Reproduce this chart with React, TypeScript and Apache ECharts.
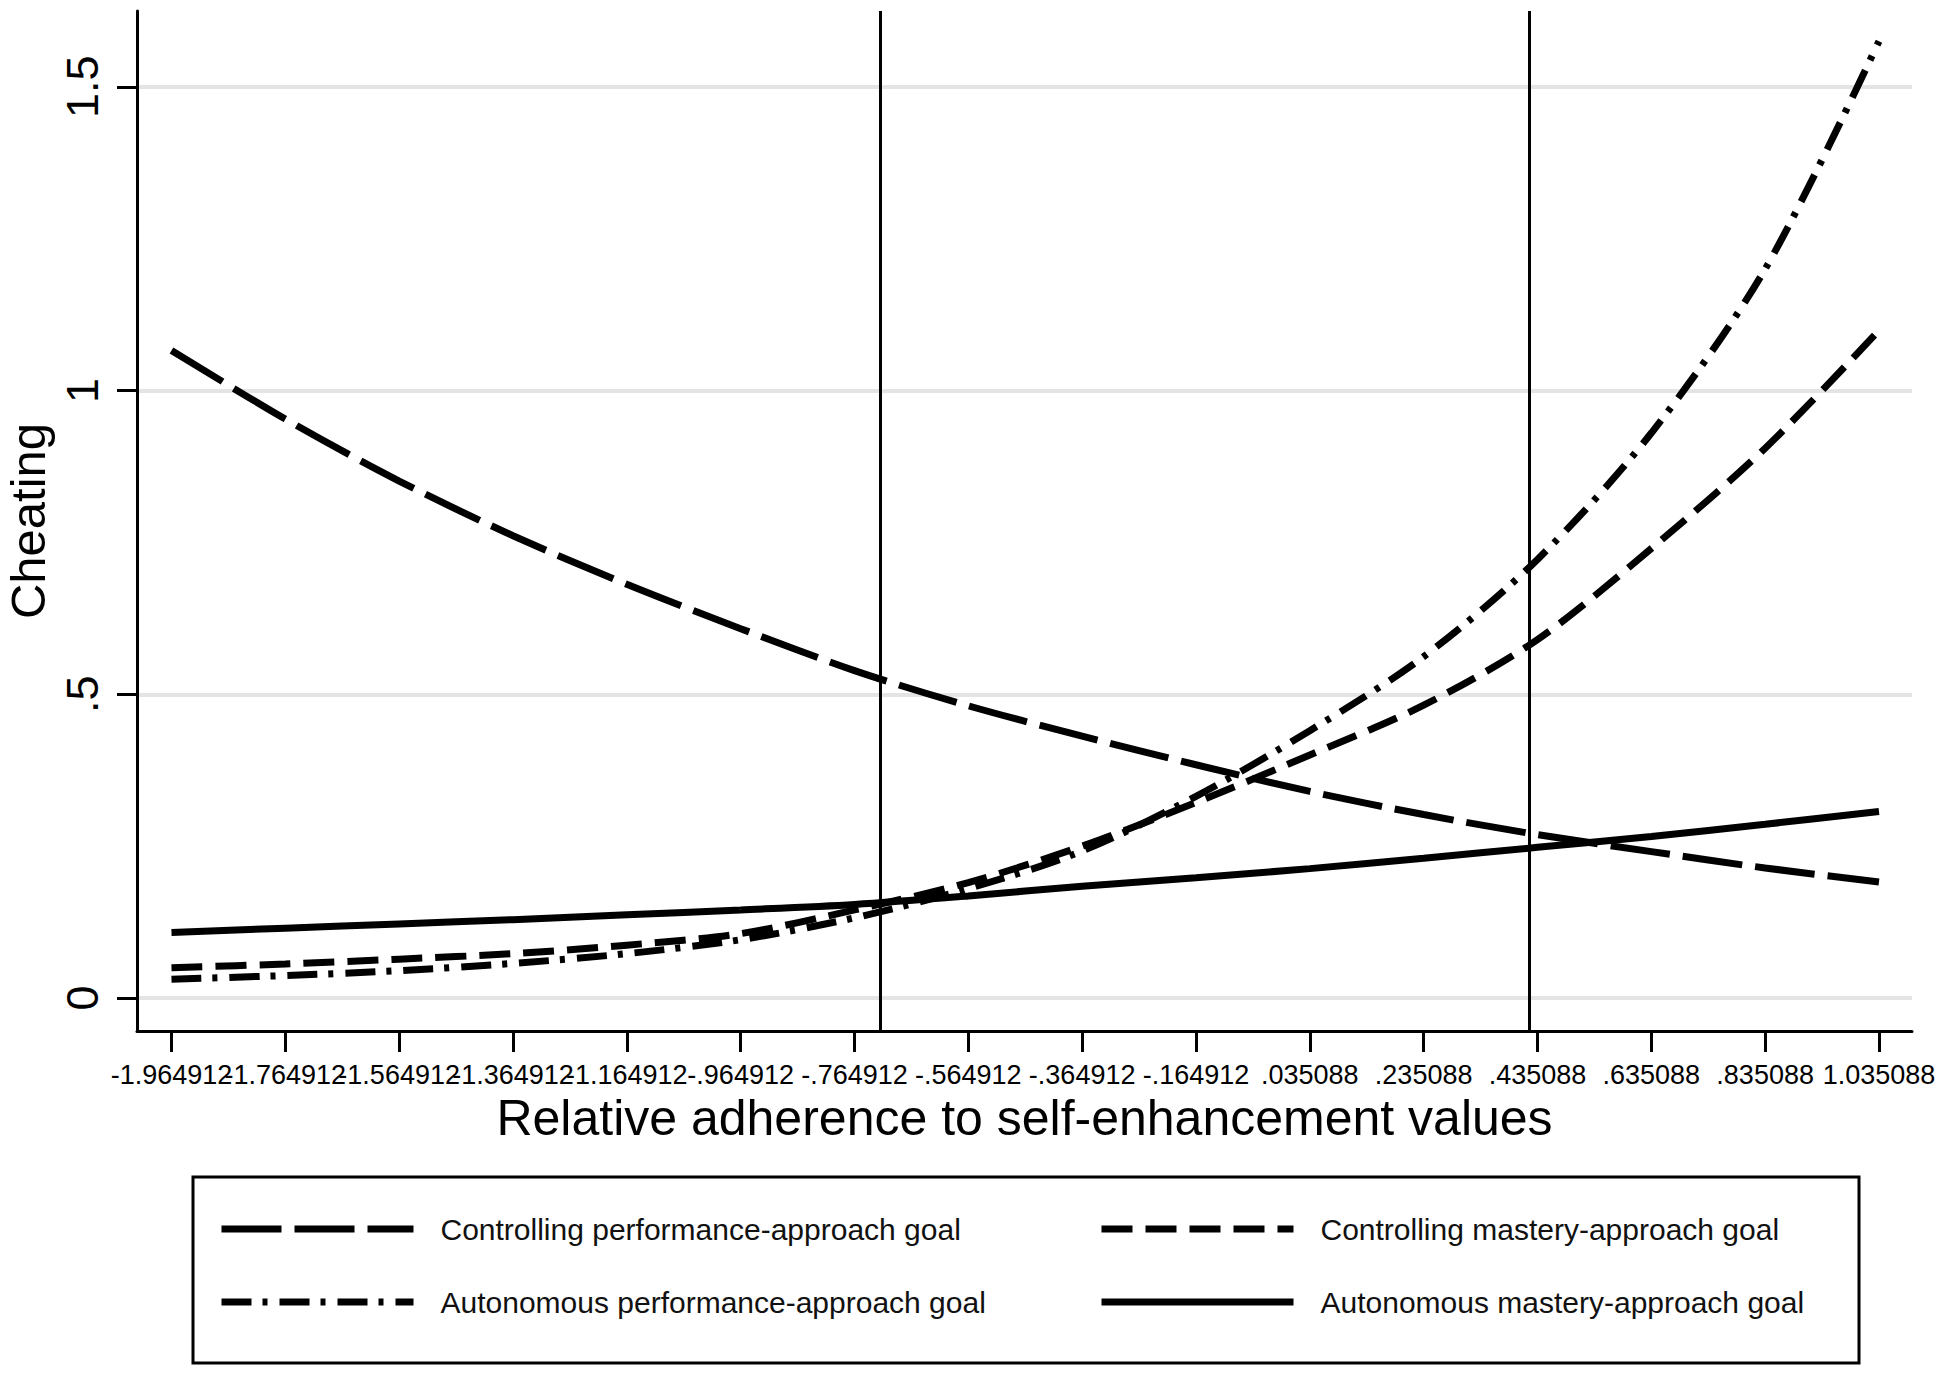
import React, { useEffect, useRef } from "react";
import * as echarts from "echarts";

const xTicks = [
  -1.964912, -1.764912, -1.564912, -1.364912, -1.164912, -0.964912, -0.764912, -0.564912,
  -0.364912, -0.164912, 0.035088, 0.235088, 0.435088, 0.635088, 0.835088, 1.035088,
];
const xTickLabels = [
  "-1.964912", "-1.764912", "-1.564912", "-1.364912", "-1.164912", "-.964912", "-.764912", "-.564912",
  "-.364912", "-.164912", ".035088", ".235088", ".435088", ".635088", ".835088", "1.035088",
];
const yTicks = [0, 0.5, 1, 1.5];
const yTickLabels = ["0", ".5", "1", "1.5"];

const ctrlPerf = [1.066, 0.953, 0.851, 0.761, 0.681, 0.608, 0.539, 0.481, 0.431, 0.384, 0.34, 0.302, 0.269, 0.241, 0.214, 0.191];
const ctrlMastery = [0.05, 0.056, 0.064, 0.073, 0.087, 0.106, 0.145, 0.19, 0.25, 0.322, 0.4, 0.482, 0.59, 0.74, 0.905, 1.099];
const autoPerf = [0.031, 0.037, 0.045, 0.057, 0.073, 0.096, 0.132, 0.18, 0.242, 0.332, 0.44, 0.562, 0.722, 0.93, 1.2, 1.575];
const autoMastery = [0.108, 0.115, 0.122, 0.129, 0.137, 0.145, 0.154, 0.168, 0.184, 0.198, 0.213, 0.23, 0.248, 0.266, 0.286, 0.307];

const refLines = [-0.72, 0.422];

const seriesNames = [
  "Controlling performance-approach goal",
  "Controlling mastery-approach goal",
  "Autonomous performance-approach goal",
  "Autonomous mastery-approach goal",
];

const FONT = "'Liberation Sans', Arial, Helvetica, sans-serif";
const X_MIN = -2.0255;
const X_MAX = 1.0931;

function pairs(vals: number[]) {
  return vals.map((v, i) => [xTicks[i], v]);
}

function xLabelFormatter(v: number) {
  const i = xTicks.findIndex((t) => Math.abs(t - v) < 1e-6);
  return i >= 0 ? xTickLabels[i] : "";
}

function buildXAxis(ticks: number[], main: boolean) {
  return {
    type: "value",
    gridIndex: 0,
    position: "bottom",
    offset: 0,
    min: X_MIN,
    max: X_MAX,
    name: main ? "Relative adherence to self-enhancement values" : "",
    nameLocation: "middle",
    nameGap: 62,
    nameTextStyle: { fontSize: 50, color: "#000", fontFamily: FONT },
    axisLine: { show: main, onZero: false, lineStyle: { color: "#000", width: 3 } },
    axisTick: { show: true, length: 21, customValues: ticks, lineStyle: { color: "#000", width: 3 } },
    axisLabel: {
      customValues: ticks,
      showMinLabel: true,
      showMaxLabel: true,
      fontSize: 27,
      color: "#000",
      fontFamily: FONT,
      margin: 30,
      hideOverlap: false,
      formatter: xLabelFormatter,
    },
    splitLine: { show: false },
  };
}

function buildOption() {
  const evenTicks = xTicks.filter((_, i) => i % 2 === 0);
  const oddTicks = xTicks.filter((_, i) => i % 2 === 1);
  const lineSeries = (name: string, vals: number[], dash: any) => ({
    name,
    type: "line",
    xAxisIndex: 0,
    data: pairs(vals),
    symbol: "none",
    showSymbol: false,
    smooth: 0.3,
    lineStyle: { color: "#000", width: 7, type: dash, cap: "butt" },
    itemStyle: { color: "#000" },
    z: 3,
  });
  const s0: any = lineSeries(seriesNames[0], ctrlPerf, [60, 13]);
  s0.markLine = {
    silent: true,
    symbol: ["none", "none"],
    label: { show: false },
    lineStyle: { color: "#000", width: 3, type: "solid" },
    data: refLines.map((v) => ({ xAxis: v })),
  };
  const legendCommon = {
    orient: "vertical",
    itemWidth: 192,
    itemHeight: 30,
    itemGap: 43,
    selectedMode: false,
    itemStyle: { color: "rgba(0,0,0,0)", borderWidth: 0, opacity: 0 },
    textStyle: { fontSize: 30, color: "#111", fontFamily: FONT, padding: [0, 0, 0, 22] },
    lineStyle: { width: 7, type: "inherit" },
  };
  return {
    animation: false,
    backgroundColor: "#fff",
    grid: { left: 137, top: 11, right: 38, bottom: 345, containLabel: false, outerBoundsMode: "none" },
    xAxis: [buildXAxis(evenTicks, true), buildXAxis(oddTicks, false)],
    yAxis: {
      type: "value",
      min: -0.0543,
      max: 1.6247,
      name: "Cheating",
      nameLocation: "middle",
      nameRotate: 90,
      nameGap: 82,
      nameTextStyle: { fontSize: 49, color: "#000", fontFamily: FONT },
      axisLine: { show: true, onZero: false, lineStyle: { color: "#000", width: 3 } },
      axisTick: { show: true, length: 20, customValues: yTicks, lineStyle: { color: "#000", width: 3 } },
      axisLabel: {
        customValues: yTicks,
        showMinLabel: true,
        showMaxLabel: true,
        rotate: 90,
        fontSize: 45,
        color: "#000",
        fontFamily: FONT,
        margin: 32,
        formatter: (v: number) => {
          const i = yTicks.findIndex((t) => Math.abs(t - v) < 1e-6);
          return i >= 0 ? yTickLabels[i] : "";
        },
      },
      splitLine: { show: true, lineStyle: { color: "#e4e4e4", width: 4 } },
    },
    legend: [
      { ...legendCommon, left: 213, top: 1209, data: [seriesNames[0], seriesNames[2]] },
      { ...legendCommon, left: 1093, top: 1209, data: [seriesNames[1], seriesNames[3]] },
    ],
    graphic: [
      {
        type: "rect",
        shape: { x: 193, y: 1177, width: 1666, height: 186 },
        style: { fill: "none", stroke: "#000", lineWidth: 3 },
        silent: true,
      },
    ],
    series: [
      s0,
      lineSeries(seriesNames[1], ctrlMastery, [31, 13]),
      lineSeries(seriesNames[2], autoPerf, [30, 11, 5, 12]),
      lineSeries(seriesNames[3], autoMastery, "solid"),
    ],
  };
}

export default function App() {
  const ref = useRef<HTMLDivElement>(null);
  useEffect(() => {
    if (!ref.current) return;
    const chart = echarts.init(ref.current, null, { renderer: "svg" });
    chart.setOption(buildOption() as any);
    return () => chart.dispose();
  }, []);
  return (
    <div
      ref={ref}
      style={{ position: "absolute", left: 0, top: 0, width: 1950, height: 1376, background: "#fff" }}
    />
  );
}
